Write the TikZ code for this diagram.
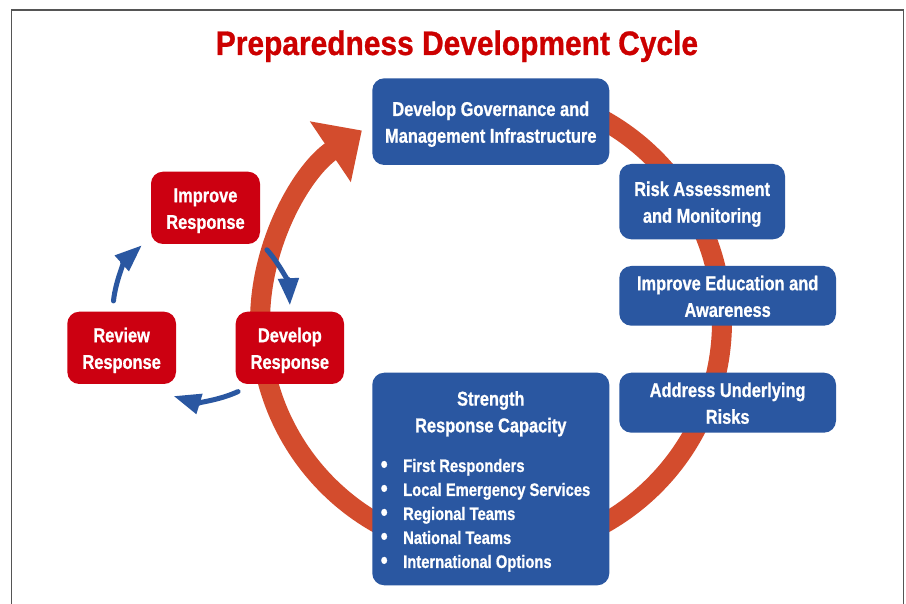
\documentclass[tikz,border=0pt]{standalone}
\usepackage{fontspec}
\setmainfont{Liberation Sans}
\newfontfamily\condfont[FakeStretch=0.82, FakeBold=0.8]{Liberation Sans}
\newfontfamily\titlefont[FakeStretch=0.88, FakeBold=0.8]{Liberation Sans}
\usetikzlibrary{arrows.meta}
\definecolor{boxblue}{HTML}{2A57A1}
\definecolor{boxred}{HTML}{CC0011}
\definecolor{ringorange}{HTML}{D34C2D}
\definecolor{titlered}{HTML}{CC0000}
\definecolor{framegray}{HTML}{555555}
\newcommand{\bul}{\makebox[22.5pt][l]{\raisebox{-0.5pt}{\scalebox{1.35}{•}}}}
\newcommand{\twolines}[2]{\begin{tabular}{@{}c@{}}\rule{0pt}{23.4pt}#1\\#2\end{tabular}}
\begin{document}
\begin{tikzpicture}[x=1pt,y=-1pt,
  boxtext/.style={inner sep=0pt, text=white,
     font=\condfont\bfseries\fontsize{20}{26.7}\selectfont},
  bluebox/.style={boxtext, rounded corners=12pt, fill=boxblue},
  redbox/.style={boxtext, rounded corners=12pt, fill=boxred},
  listtext/.style={inner sep=0pt, text=white, align=left,
     font=\condfont\bfseries\fontsize{18}{24}\selectfont},
  ringarrow/.style={draw=ringorange, line width=20pt, -{Triangle[length=38pt,width=71pt]}},
  smallarrow/.style={draw=boxblue, line width=5pt, line cap=round, -{Triangle[length=27pt,width=20pt]}}]
\clip (0,0) rectangle (906,604);
\fill[white] (0,0) rectangle (906,604);
\draw[framegray, line width=1.3pt] (11.6,620) -- (11.6,10) -- (903.3,10) -- (903.3,620);
\node[inner sep=0pt, anchor=base, text=titlered, font=\titlefont\bfseries\fontsize{34}{40}\selectfont] (title) at (457,55) {Preparedness Development Cycle};
% big cycle ring
\coordinate (rc) at (491,322);
\draw[ringarrow] ([shift={(-85:231)}]rc) arc[start angle=-85, end angle=236, radius=231];
% blue boxes
\node[bluebox, minimum width=237pt, minimum height=86.7pt] (gov) at (490.8,121.65) {\twolines{Develop Governance and}{Management Infrastructure}};
\node[bluebox, minimum width=165.7pt, minimum height=75.3pt] (risk) at (702.15,201.65) {\twolines{Risk Assessment}{and Monitoring}};
\node[bluebox, minimum width=216.7pt, minimum height=59.7pt] (edu) at (727.65,295.85) {\twolines{Improve Education and}{Awareness}};
\node[bluebox, minimum width=216.7pt, minimum height=60pt] (addr) at (727.65,402.7) {\twolines{Address Underlying}{Risks}};
\node[bluebox, minimum width=237pt, minimum height=212.6pt] (str) at (490.8,479) {};
\node[boxtext, anchor=north] (strhead) at (490.8,382) {\twolines{Strength}{Response Capacity}};
\node[listtext, anchor=north west] (strlist) at (380.5,458.7) {\bul First Responders\\\bul Local Emergency Services\\\bul Regional Teams\\\bul National Teams\\\bul International Options};
% red boxes
\node[redbox, minimum width=109pt, minimum height=72.3pt] (imp) at (205.5,207.85) {\twolines{Improve}{Response}};
\node[redbox, minimum width=108.7pt, minimum height=72.3pt] (rev) at (121.65,347.85) {\twolines{Review}{Response}};
\node[redbox, minimum width=108.3pt, minimum height=72.3pt] (dev) at (289.85,347.85) {\twolines{Develop}{Response}};
% small cycle arrows
\coordinate (hub) at (200,310);
\draw[smallarrow] ([shift={(-42:90)}]hub) arc[start angle=-42, end angle=-3, radius=90];
\draw[smallarrow] ([shift={(65:90)}]hub) arc[start angle=65, end angle=107, radius=90];
\draw[smallarrow] ([shift={(186:87)}]hub) arc[start angle=186, end angle=228, radius=87];
\end{tikzpicture}
\end{document}
